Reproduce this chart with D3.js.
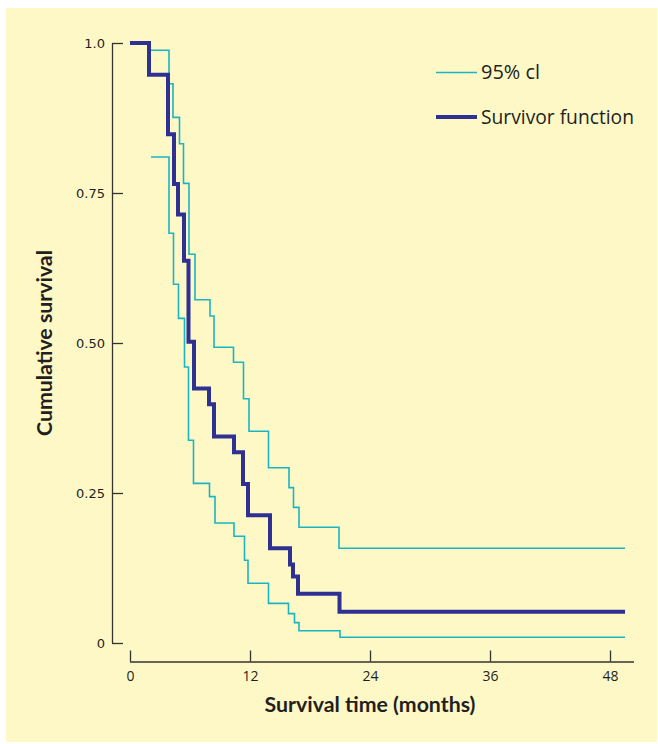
<!DOCTYPE html>
<html>
<head>
<meta charset="utf-8">
<script src="https://cdn.jsdelivr.net/npm/d3@7"></script>
<style>
  html, body { margin: 0; padding: 0; background: #ffffff; }
  svg { display: block; }
</style>
</head>
<body>
<svg id="chart" width="658" height="744"></svg>
<script>
// ---- data ----
const survTimes  = [0, 1.9, 3.8, 4.4, 4.8, 5.4, 5.85, 6.4, 7.9, 8.4, 10.4, 11.3, 11.8, 14.0, 16.0, 16.3, 16.8, 20.95, 49.5];
const survValues = [1.0, 0.947, 0.848, 0.765, 0.714, 0.637, 0.502, 0.424, 0.398, 0.344, 0.318, 0.265, 0.213, 0.158, 0.131, 0.111, 0.082, 0.052, 0.052];

const upperTimes  = [2.0, 3.9, 4.3, 4.95, 5.35, 5.9, 6.5, 8.0, 8.4, 10.35, 11.35, 11.9, 13.85, 15.9, 16.35, 16.9, 20.9, 49.5];
const upperValues = [0.988, 0.932, 0.876, 0.832, 0.766, 0.648, 0.572, 0.545, 0.493, 0.468, 0.407, 0.353, 0.292, 0.259, 0.226, 0.193, 0.158, 0.158];

const lowerTimes  = [2.1, 3.9, 4.35, 4.85, 5.45, 5.85, 6.35, 7.95, 8.5, 10.4, 11.45, 11.8, 13.85, 15.85, 16.45, 16.9, 21.0, 49.5];
const lowerValues = [0.81, 0.683, 0.598, 0.541, 0.46, 0.338, 0.266, 0.244, 0.2, 0.178, 0.138, 0.0995, 0.066, 0.049, 0.034, 0.0205, 0.0095, 0.0095];

const xTicks = [0, 12, 24, 36, 48];
const yTicks = [0, 0.25, 0.5, 0.75, 1.0];
const yTickLabels = ["0", "0.25", "0.50", "0.75", "1.0"];
const legendLabels = ["95% cl", "Survivor function"];

// ---- styling ----
const bg = "#fef8c6";
const navy = "#2e3192";
const teal = "#1ab4c4";
const axisCol = "#35332e";
const textCol = "#231f20";

const svg = d3.select("#chart");
svg.append("rect").attr("x", 6).attr("y", 8).attr("width", 651).attr("height", 734).attr("fill", bg);

const x = d3.scaleLinear().domain([0, 48]).range([130, 610]);
const y = d3.scaleLinear().domain([0, 1]).range([643, 43]);

function fitText(sel, width) {
  const w = sel.node().getComputedTextLength();
  const fs = parseFloat(sel.attr("font-size"));
  sel.attr("font-size", fs * width / w);
}

// ---- axes ----
const yAxisX = 112;
const xAxisY = 661.5;

const yAxis = d3.axisRight(y).tickValues(yTicks).tickSize(11).tickFormat("");
const gy = svg.append("g").attr("transform", `translate(${yAxisX},0)`).call(yAxis);
gy.select(".domain").attr("d", `M0.5,${y(1)}V${y(0)}`);
gy.selectAll("path, line").attr("stroke", axisCol).attr("stroke-width", 1.3);

svg.append("g").selectAll("text").data(yTicks).join("text")
  .attr("x", 105).attr("y", d => y(d) + 5)
  .attr("text-anchor", "end")
  .attr("font-family", "DejaVu Sans, sans-serif").attr("font-size", 13)
  .attr("fill", textCol)
  .text((d, i) => yTickLabels[i]);

const xAxis = d3.axisTop(x).tickValues(xTicks).tickSize(11).tickFormat("");
const gx = svg.append("g").attr("transform", `translate(0,${xAxisY})`).call(xAxis);
gx.select(".domain").attr("d", `M${x(0)},0.5H634`);
gx.selectAll("path, line").attr("stroke", axisCol).attr("stroke-width", 1.3);

svg.append("g").selectAll("text").data(xTicks).join("text")
  .attr("x", d => x(d) + 0.5).attr("y", 681)
  .attr("text-anchor", "middle")
  .attr("font-family", "Open Sans, sans-serif").attr("font-size", 14)
  .attr("fill", textCol)
  .text(d => d);

// axis titles
const xt = svg.append("text")
  .attr("x", 370).attr("y", 712)
  .attr("text-anchor", "middle")
  .attr("font-family", "Lato, sans-serif").attr("font-weight", "bold").attr("font-size", 19)
  .attr("fill", textCol)
  .text("Survival time (months)");
fitText(xt, 211);

const yt = svg.append("text")
  .attr("transform", "translate(52,343) rotate(-90)")
  .attr("text-anchor", "middle")
  .attr("font-family", "Lato, sans-serif").attr("font-weight", "bold").attr("font-size", 19)
  .attr("fill", textCol)
  .text("Cumulative survival");
fitText(yt, 186);

// ---- curves ----
const line = d3.line().x(d => x(d[0])).y(d => y(d[1])).curve(d3.curveStepAfter);

function series(times, values) { return times.map((t, i) => [t, values[i]]); }

svg.append("path").datum(series(upperTimes, upperValues))
  .attr("d", line).attr("fill", "none").attr("stroke", teal).attr("stroke-width", 1.6);
svg.append("path").datum(series(lowerTimes, lowerValues))
  .attr("d", line).attr("fill", "none").attr("stroke", teal).attr("stroke-width", 1.6);
svg.append("path").datum(series(survTimes, survValues))
  .attr("d", line).attr("fill", "none").attr("stroke", navy).attr("stroke-width", 4);

// ---- legend ----
const legendColors = [teal, navy];
const legendWidths = [1.6, 4];
const legendY = [72.5, 117];
const lg = svg.append("g");
legendLabels.forEach((lab, i) => {
  lg.append("line").attr("x1", 436).attr("x2", 477).attr("y1", legendY[i]).attr("y2", legendY[i])
    .attr("stroke", legendColors[i]).attr("stroke-width", legendWidths[i]);
  const t = lg.append("text").attr("x", 481).attr("y", legendY[i] + 6.5)
    .attr("font-family", "Open Sans, sans-serif").attr("font-size", 18)
    .attr("fill", textCol).text(lab);
  if (i === 1) fitText(t, 153);
  else fitText(t, 59);
});
</script>
</body>
</html>
